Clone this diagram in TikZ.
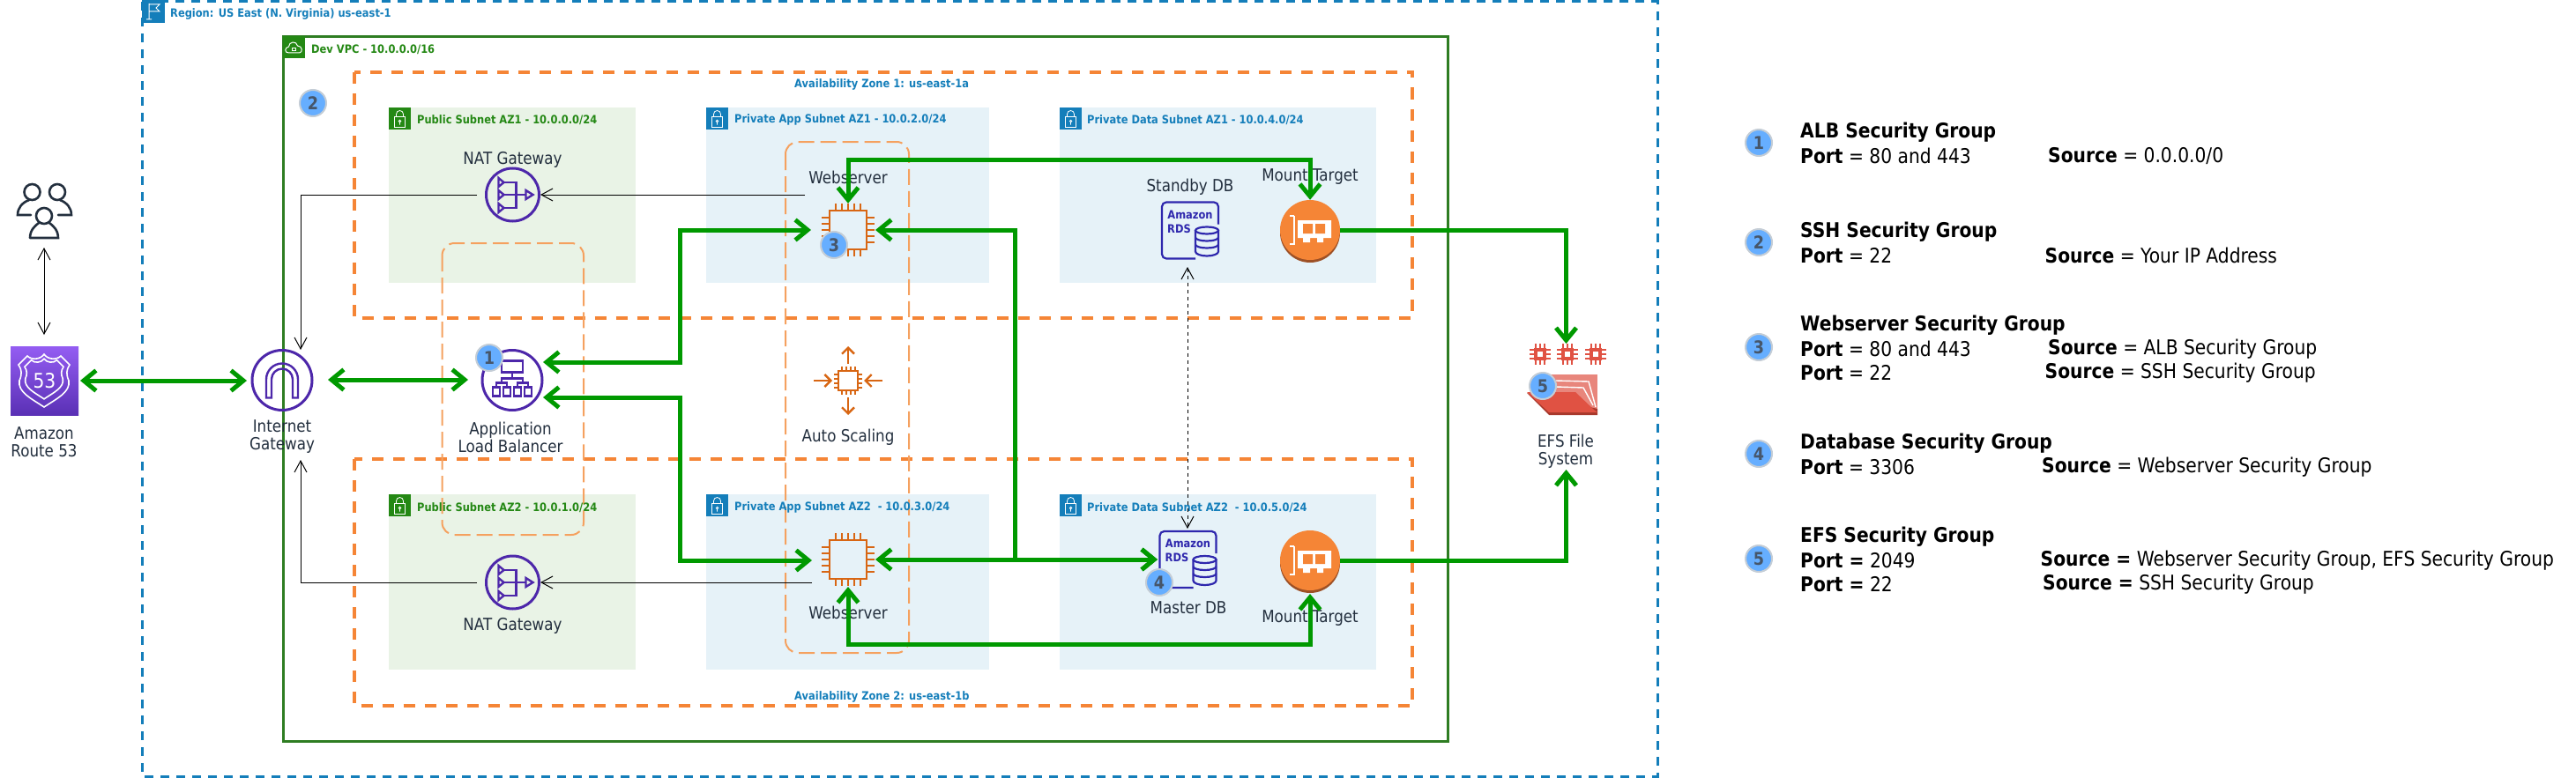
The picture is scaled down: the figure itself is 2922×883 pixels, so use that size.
\documentclass[tikz,border=0pt]{standalone}
\usepackage{fontspec}
\setmainfont[FakeStretch=0.88]{DejaVu Sans}
\usetikzlibrary{arrows.meta}
\definecolor{regionblue}{HTML}{147EBA}
\definecolor{vpcgreen}{HTML}{2E7D22}
\definecolor{publicgreen}{HTML}{248814}
\definecolor{zoneorange}{HTML}{F58536}
\definecolor{scaleorange}{HTML}{F5A15F}
\definecolor{ecorange}{HTML}{D86613}
\definecolor{publicfill}{HTML}{E9F3E6}
\definecolor{privatefill}{HTML}{E6F2F8}
\definecolor{linkgreen}{HTML}{009900}
\definecolor{awspurple}{HTML}{4D27AA}
\definecolor{routetop}{HTML}{945DF2}
\definecolor{routefoot}{HTML}{5A30B5}
\definecolor{rdsblue}{HTML}{2E27AD}
\definecolor{inkdark}{HTML}{232F3E}
\definecolor{efsred}{HTML}{E05243}
\definecolor{efsdark}{HTML}{A8382C}
\definecolor{efslight}{HTML}{E8867C}
\definecolor{mountdark}{HTML}{9D5025}
\definecolor{badgeblue}{HTML}{66AEFF}
\definecolor{badgeedge}{HTML}{C4CDD6}
\definecolor{badgetext}{HTML}{46566A}

\tikzset{
  iconlabel/.style={font=\fontsize{19}{20}\selectfont, text=inkdark, align=center, inner sep=0pt},
  subnettext/.style={font=\fontsize{13}{15}\selectfont\bfseries, anchor=west, inner sep=0pt},
  legendhead/.style={font=\fontsize{23}{25}\selectfont\bfseries, text=black, anchor=west, inner sep=0pt},
  legendline/.style={font=\fontsize{23}{26}\selectfont, text=black, anchor=west, inner sep=0pt},
  subnetbox/.style={minimum width=#1, minimum height=199pt, inner sep=0pt, anchor=north west},
  zonebox/.style={draw=zoneorange, line width=4pt, dash pattern=on 13pt off 11pt},
  scalebox/.style={draw=scaleorange, line width=2pt, dash pattern=on 18pt off 7pt, rounded corners=14pt},
  gwnode/.style={circle, draw=awspurple, line width=3pt, minimum size=#1, inner sep=0pt},
  hostnode/.style={minimum size=60pt, inner sep=0pt},
  mountnode/.style={circle, fill=zoneorange, minimum size=68pt, inner sep=0pt},
  badge/.style={circle, fill=badgeblue, draw=badgeedge, line width=2pt, minimum size=30pt, inner sep=0pt,
    text=badgetext, font=\fontsize{20}{20}\selectfont\bfseries},
  greenlink/.style={draw=linkgreen, line width=5pt, >={Straight Barb[length=14pt,width=23pt]}},
  thinlink/.style={draw=black, line width=1pt, >={Straight Barb[length=13pt,width=14pt]}},
  % icons as pics, drawn around the origin
  lockglyph/.pic={
    \fill[#1] (-12.5,-12.5) rectangle (12.5,12.5);
    \draw[white, line width=.8pt] (-6,-2) rectangle (6,10);
    \draw[white, line width=.8pt] (-4,-2) -- (-4,-5) arc[start angle=180, end angle=360, radius=4] -- (4,-2);
    \draw[white, line width=.8pt] (0,3) circle[radius=1.2] (0,4) -- (0,7);
  },
  flagglyph/.pic={
    \fill[regionblue] (-13,-13) rectangle (13,13);
    \draw[white, line width=1pt] (-5,-9) -- (-5,9) (-8,9) -- (-2,9) (-5,-8) -- (7,-8) -- (3,-4) -- (7,0) -- (-5,0);
  },
  cloudglyph/.pic={
    \fill[publicgreen] (-12.5,-12.5) rectangle (12.5,12.5);
    \draw[white, line width=1pt] (-6,6) .. controls (-11,6) and (-11,0) .. (-6,-1)
      .. controls (-6,-7) and (3,-8) .. (4,-2) .. controls (10,-2) and (10,6) .. (6,6) -- cycle;
    \draw[white, line width=.8pt] (-2,0) rectangle (2,3);
  },
  natglyph/.pic={
    \begin{scope}[draw=awspurple, line width=2.4pt]
    \foreach \ty in {-14,0,15}{
      \draw (-16,\ty-5) -- (-10,\ty) -- (-16,\ty+5) -- cycle;
    }
    \draw (15,-5) -- (23,0) -- (15,5) -- cycle;
    \draw (-10,0) -- (15,0);
    \draw (-10,-14) -- (4,-14) -- (4,15) -- (-10,15);
    \end{scope}
  },
  igwglyph/.pic={
    \draw[awspurple, line width=2.4pt] (-18,20) -- (-18,-1) arc[start angle=180, end angle=360, radius=18]
      -- (18,20) -- (12,20) -- (12,-1) arc[start angle=360, end angle=180, radius=12] -- (-12,20) -- cycle;
  },
  albglyph/.pic={
    \begin{scope}[draw=awspurple, line width=2.4pt]
    \draw (-12,-22) rectangle (12,-9);
    \draw (0,-9) -- (0,-2) (-12,3) -- (-12,-2) -- (12,-2) -- (12,3);
    \draw (-18,8) -- (-18,3) -- (-6,3) -- (-6,8) (6,8) -- (6,3) -- (18,3) -- (18,8);
    \foreach \bx in {-18,-6,6,18}{
      \draw (\bx-4,8) rectangle (\bx+4,18);
    }
    \end{scope}
  },
  chipglyph/.pic={
    \draw[ecorange, line width=2.6pt] (-21,-22) rectangle (21,22);
    \foreach \pn in {-14,-7,0,7,14}{
      \draw[ecorange, line width=1.8pt] (\pn,-22) -- (\pn,-30) (\pn,22) -- (\pn,30);
      \draw[ecorange, line width=1.8pt] (-21,\pn) -- (-30,\pn) (21,\pn) -- (30,\pn);
    }
  },
  scaleglyph/.pic={
    \draw[ecorange, line width=2.4pt] (-11,-11) rectangle (11,11);
    \foreach \pn in {-7,-2,3,8}{
      \draw[ecorange, line width=1.4pt] (\pn,-11) -- (\pn,-16) (\pn,11) -- (\pn,16);
      \draw[ecorange, line width=1.4pt] (-11,\pn) -- (-16,\pn) (11,\pn) -- (16,\pn);
    }
    \begin{scope}[ecorange, line width=2.4pt, >={Straight Barb[length=7pt,width=14pt]}]
    \draw[->] (0,-19) -- (0,-39);
    \draw[->] (0,19) -- (0,39);
    \draw[->] (-39,0) -- (-18,0);
    \draw[->] (39,0) -- (18,0);
    \end{scope}
  },
  rdsglyph/.pic={
    \draw[rdsblue, line width=2.2pt, rounded corners=5pt] (6,32) -- (-32,32) -- (-32,-32) -- (32,-32) -- (32,-7);
    \draw[rdsblue, line width=2.2pt, fill=privatefill] (19,0) circle[x radius=13, y radius=4];
    \draw[rdsblue, line width=2.2pt] (6,0) -- (6,24) arc[start angle=180, end angle=0, x radius=13, y radius=5] -- (32,0);
    \foreach \cy in {8,16}{
      \draw[rdsblue, line width=2.2pt] (6,\cy) arc[start angle=180, end angle=0, x radius=13, y radius=4];
    }
    \node[font=\fontsize{13}{13}\selectfont\bfseries, text=rdsblue, inner sep=0pt] (-word) at (0,-18) {Amazon};
    \node[font=\fontsize{13}{13}\selectfont\bfseries, text=rdsblue, inner sep=0pt, anchor=west] (-kind) at (-26,-2) {RDS};
  },
  cardglyph/.pic={
    \draw[white, line width=2.4pt] (-18,-16) -- (-23,-16) (-18,-16) -- (-18,16) -- (-23,16);
    \fill[white] (-14,-11) rectangle (24,9) (-8,9) rectangle (0,14) (8,9) rectangle (15,14);
    \fill[zoneorange] (-8,-7) rectangle (3,4) (6,-7) rectangle (17,4);
  },
  shieldline/.pic={
    \draw[white, line width=1.6pt] (0,-30) .. controls (-4,-24) and (-14,-23) .. (-19,-28) -- (-29,-18)
      .. controls (-25,-12) and (-25,-7) .. (-28,0) .. controls (-30,13) and (-15,20) .. (0,30)
      .. controls (15,20) and (30,13) .. (28,0) .. controls (25,-7) and (25,-12) .. (29,-18)
      -- (19,-28) .. controls (14,-23) and (4,-24) .. (0,-30) -- cycle;
  },
  efschip/.pic={
    \fill[efsred] (-7,-7) rectangle (7,7);
    \fill[white] (-3,-3) rectangle (3,3);
    \foreach \pn in {-5,0,5}{
      \draw[efsred, line width=1.6pt] (\pn,-7) -- (\pn,-12) (\pn,7) -- (\pn,12);
      \draw[efsred, line width=1.6pt] (-7,\pn) -- (-12,\pn) (7,\pn) -- (12,\pn);
    }
  },
}

\begin{document}
\begin{tikzpicture}[x=1pt, y=-1pt]
\useasboundingbox (0,0) rectangle (2922,883);

% containers
\draw[draw=regionblue, line width=3pt, dash pattern=on 10pt off 8pt] (161,2) rectangle (1880,881);
\draw[draw=vpcgreen, line width=3pt] (321,42) rectangle (1642,841);
\node[subnetbox=280pt, fill=publicfill] (pubA) at (441,122) {};
\node[subnetbox=280pt, fill=publicfill] (pubB) at (441,561) {};
\node[subnetbox=321pt, fill=privatefill] (appA) at (801,122) {};
\node[subnetbox=321pt, fill=privatefill] (appB) at (801,561) {};
\node[subnetbox=359pt, fill=privatefill] (dataA) at (1202,122) {};
\node[subnetbox=359pt, fill=privatefill] (dataB) at (1202,561) {};
\draw[zonebox] (401.5,82) rectangle (1602,361);
\draw[zonebox] (401.5,521) rectangle (1602,801);
\draw[scalebox] (501.5,276) rectangle (662,607);
\draw[scalebox] (891,161) rectangle (1031,741);

% container titles
\pic at (174,13) {flagglyph};
\pic at (333.5,54) {cloudglyph};
\foreach \lx/\ly/\lc in {453.5/134.5/publicgreen, 453.5/573.5/publicgreen, 813.5/134.5/regionblue,
  813.5/573.5/regionblue, 1214.5/134.5/regionblue, 1214.5/573.5/regionblue}{
  \pic at (\lx,\ly) {lockglyph=\lc};
}
\node[subnettext, text=regionblue] (regionname) at (193,16) {Region: US East (N. Virginia) us-east-1};
\node[subnettext, text=publicgreen] (vpcname) at (353,56) {Dev VPC - 10.0.0.0/16};
\node[subnettext, text=regionblue] (zoneAname) at (901,96) {Availability Zone 1: us-east-1a};
\node[subnettext, text=regionblue] (zoneBname) at (901,791) {Availability Zone 2: us-east-1b};
\node[subnettext, text=publicgreen] (pubAname) at (473,136) {Public Subnet AZ1 - 10.0.0.0/24};
\node[subnettext, text=publicgreen] (pubBname) at (473,576) {Public Subnet AZ2 - 10.0.1.0/24};
\node[subnettext, text=regionblue] (appAname) at (833,136) {Private App Subnet AZ1 - 10.0.2.0/24};
\node[subnettext, text=regionblue] (appBname) at (833,576) {Private App Subnet AZ2 \ - 10.0.3.0/24};
\node[subnettext, text=regionblue] (dataAname) at (1233,136) {Private Data Subnet AZ1 - 10.0.4.0/24};
\node[subnettext, text=regionblue] (dataBname) at (1233,576) {Private Data Subnet AZ2 \ - 10.0.5.0/24};

% users and Route 53
\begin{scope}[draw=inkdark, line width=2.6pt, line cap=round]
\draw (36.5,218) circle[radius=9];
\draw (65,218) circle[radius=9];
\draw (50,245) circle[radius=9];
\draw (35,244) -- (20,244) .. controls (20,236) and (25,230) .. (33,227);
\draw (66,244) -- (81,244) .. controls (81,236) and (76,230) .. (68,227);
\draw (34,270) -- (66,270) .. controls (66,261) and (60,256) .. (56,253) (44,253) .. controls (40,256) and (34,261) .. (34,270);
\end{scope}
\coordinate (usersfoot) at (50,281);
\coordinate (routehead) at (50,380);
\node[minimum width=77pt, minimum height=78pt, inner sep=0pt, top color=routetop, bottom color=routefoot,
  text=white, font=\fontsize{23}{23}\selectfont] (route) at (50.5,432) {53};
\pic at (50,432) {shieldline};
\pic[scale=.76] at (50,430) {shieldline};

% gateways and balancer
\node[gwnode=60pt] (natA) at (581.5,221) {};
\node[gwnode=60pt] (natB) at (581.5,661) {};
\node[gwnode=68pt] (igw) at (320,431.5) {};
\node[gwnode=68pt] (alb) at (581,431.5) {};
\pic at (natA) {natglyph};
\pic at (natB) {natglyph};
\pic at (igw) {igwglyph};
\pic at (alb) {albglyph};

% compute, data, storage
\node[hostnode] (hostA) at (962,261) {};
\node[hostnode] (hostB) at (962,635) {};
\pic at (hostA) {chipglyph};
\pic at (hostB) {chipglyph};
\node[hostnode] (scaling) at (962,432) {};
\pic at (scaling) {scaleglyph};
\node[minimum width=64pt, minimum height=66pt, inner sep=0pt] (dbStandby) at (1350,261.5) {};
\node[minimum width=64pt, minimum height=66pt, inner sep=0pt] (dbMaster) at (1347.5,635) {};
\pic (rdsS) at (dbStandby) {rdsglyph};
\pic (rdsM) at (dbMaster) {rdsglyph};
\fill[mountdark] (1486,264) circle[radius=34];
\fill[mountdark] (1486,639) circle[radius=34];
\node[mountnode] (mountA) at (1486,261) {};
\node[mountnode] (mountB) at (1486,636) {};
\pic at (mountA) {cardglyph};
\pic at (mountB) {cardglyph};
\pic at (1747,402) {efschip};
\pic at (1778,402) {efschip};
\pic at (1810,402) {efschip};
\fill[efslight] (1756,425) -- (1812,425) -- (1812,468) -- (1756,468) -- cycle;
\draw[white, line width=1.4pt] (1765,432) -- (1802,433) -- (1810,462) (1765,439) -- (1796,440) -- (1807,460);
\fill[efsdark] (1732,446) -- (1757,471) -- (1812,471) -- (1812,464) -- cycle;
\fill[efsred] (1732,445) -- (1787,445) -- (1808,465) -- (1812,468) -- (1757,468) -- cycle;
\node[minimum width=80pt, minimum height=46pt, inner sep=0pt] (efs) at (1772,448) {};

% icon captions
\node[iconlabel] (routelabel) at (50,502) {Amazon\\Route 53};
\node[iconlabel] (igwlabel) at (320,496) {Internet\\Gateway};
\node[iconlabel] (alblabel) at (579,496) {Application\\Load Balancer};
\node[iconlabel] (natAlabel) at (581.5,181.5) {NAT Gateway};
\node[iconlabel] (natBlabel) at (581.5,710) {NAT Gateway};
\node[iconlabel] (hostAlabel) at (962,201) {Webserver};
\node[iconlabel] (hostBlabel) at (962,695) {Webserver};
\node[iconlabel] (scalinglabel) at (962,496) {Auto Scaling};
\node[iconlabel] (dbStandbylabel) at (1350,212) {Standby DB};
\node[iconlabel] (dbMasterlabel) at (1348,690) {Master DB};
\node[iconlabel] (mountAlabel) at (1486,201) {Mount Target};
\node[iconlabel] (mountBlabel) at (1486,702) {Mount Target};
\node[iconlabel] (efslabel) at (1776,512) {EFS File\\System};

% thin connectors
\coordinate (natAout) at (541,221);
\coordinate (natBout) at (541,661);
\coordinate (igwtop) at (341,397);
\coordinate (igwfoot) at (341,522);
\coordinate (hostAout) at (913,221);
\coordinate (hostBout) at (921,661);
\coordinate (dbStandbyfoot) at (1347,303);
\coordinate (dbMastertop) at (1347,600);
\draw[thinlink, <->] (usersfoot) -- (routehead);
\draw[thinlink, ->] (natAout) -| (igwtop);
\draw[thinlink, ->] (natBout) -| (igwfoot);
\draw[thinlink, ->] (hostAout) -- (natA.east);
\draw[thinlink, ->] (hostBout) -- (natB.east);
\draw[thinlink, <->, dash pattern=on 4pt off 4pt] (dbStandbyfoot) -- (dbMastertop);

% green connectors
\coordinate (routeport) at (91,432);
\coordinate (igwin) at (280,432);
\coordinate (igwout) at (372,431);
\coordinate (albin) at (531,431);
\coordinate (albup) at (616,411);
\coordinate (albdown) at (616,451);
\coordinate (leftbusup) at (771,300);
\coordinate (leftbusdown) at (771,540);
\coordinate (hostAleft) at (920,261);
\coordinate (hostBleft) at (921,636);
\coordinate (rightbus) at (1151,400);
\coordinate (hostBright) at (993,635);
\coordinate (hostAright) at (993,261);
\coordinate (dbMasterleft) at (1313,635);
\coordinate (toprail) at (1200,181);
\coordinate (footrail) at (1200,731);
\coordinate (hostBfoot) at (962,666);
\coordinate (mountBfoot) at (1486,674);
\coordinate (efsbus) at (1776.5,300);
\coordinate (efstop) at (1776.5,390);
\coordinate (efsfoot) at (1776.5,533);
\draw[greenlink, <->] (routeport) -- (igwin);
\draw[greenlink, <->] (igwout) -- (albin);
\draw[greenlink, <->] (albup) -| (leftbusup) |- (hostAleft);
\draw[greenlink, <->] (albdown) -| (leftbusdown) |- (hostBleft);
\draw[greenlink, <->] (hostA.north) |- (toprail) -| (mountA.north);
\draw[greenlink, <->] (hostBfoot) |- (footrail) -| (mountBfoot);
\draw[greenlink, <->] (hostAright) -| (rightbus) |- (dbMasterleft);
\draw[greenlink, <->] (hostBright) -- (dbMasterleft);
\draw[greenlink, ->] (mountA.east) -| (efsbus) -- (efstop);
\draw[greenlink, ->] (mountB.east) -| (efsfoot);

% numbered badges
\node[badge] (markB) at (355,117) {2};
\node[badge] (markA) at (555,406) {1};
\node[badge] (markC) at (946,278) {3};
\node[badge] (markD) at (1315,661) {4};
\node[badge] (markE) at (1750,438) {5};

% legend
\node[badge] (keyA) at (1995,162) {1};
\node[legendhead] (keyAhead) at (2042,150) {ALB Security Group};
\node[legendline] (keyAport) at (2042,177) {\textbf{Port} = 80 and 443};
\node[legendline] (keyAsource) at (2323,177) {\textbf{Source} = 0.0.0.0/0};
\node[badge] (keyB) at (1995,275) {2};
\node[legendhead] (keyBhead) at (2042,263) {SSH Security Group};
\node[legendline] (keyBport) at (2042,290) {\textbf{Port} = 22};
\node[legendline] (keyBsource) at (2319.5,290) {\textbf{Source} = Your IP Address};
\node[badge] (keyC) at (1995,394) {3};
\node[legendhead] (keyChead) at (2042,369) {Webserver Security Group};
\node[legendline] (keyCport) at (2042,396) {\textbf{Port} = 80 and 443};
\node[legendline] (keyCsource) at (2323,396) {\textbf{Source} = ALB Security Group};
\node[legendline] (keyCportb) at (2042,423) {\textbf{Port} = 22};
\node[legendline] (keyCsourceb) at (2319.5,423) {\textbf{Source} = SSH Security Group};
\node[badge] (keyD) at (1995,515) {4};
\node[legendhead] (keyDhead) at (2042,503) {Database Security Group};
\node[legendline] (keyDport) at (2042,530) {\textbf{Port} = 3306};
\node[legendline] (keyDsource) at (2316,530) {\textbf{Source} = Webserver Security Group};
\node[badge] (keyE) at (1995,634) {5};
\node[legendhead] (keyEhead) at (2042,609) {EFS Security Group};
\node[legendline] (keyEport) at (2042,636) {\textbf{Port =} 2049};
\node[legendline] (keyEsource) at (2314.5,636) {\textbf{Source =} Webserver Security Group, EFS Security Group};
\node[legendline] (keyEportb) at (2042,663) {\textbf{Port =} 22};
\node[legendline] (keyEsourceb) at (2317,663) {\textbf{Source =} SSH Security Group};
\end{tikzpicture}
\end{document}
